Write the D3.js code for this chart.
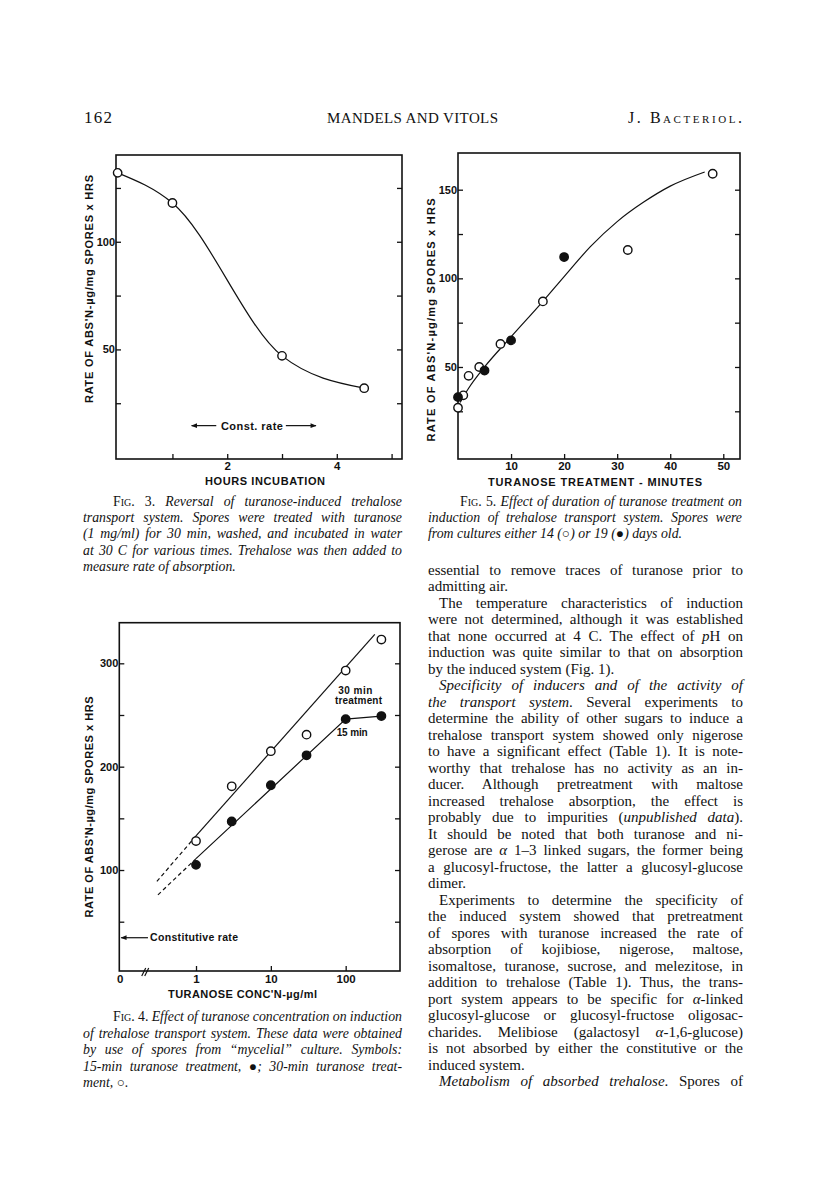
<!DOCTYPE html>
<html>
<head>
<meta charset="utf-8">
<script src="https://cdn.jsdelivr.net/npm/d3@7"></script>
<style>
  body { margin: 0; background: #fff; }
  svg text { fill: #111; }
  .sans { font-family: "Liberation Sans", Arial, sans-serif; font-weight: bold; }
  .serif { font-family: "Liberation Serif", "Times New Roman", serif; }
</style>
</head>
<body>
<svg id="page" width="816" height="1201"></svg>
<script>
// Fig. 3 - reversal of induction
var fig3Hours = [0, 1, 3, 4.5];
var fig3Rate = [132, 118, 47, 32];
var fig3XTicks = [1, 2, 3, 4, 5];
var fig3XLabels = [2, 4];
var fig3YTicks = [25, 50, 75, 100, 125];
var fig3YLabels = [50, 100];

// Fig. 5 - duration of treatment
var fig5Min14 = [0, 1, 2, 4, 8, 16, 32, 48];
var fig5Rate14 = [27, 34, 45, 50, 63, 87, 116, 159];
var fig5Min19 = [0, 5, 10, 20];
var fig5Rate19 = [33, 48, 65, 112];
var fig5FitMin = [0.4, 2, 5, 10, 16, 20, 25, 30, 35, 40, 46.5];
var fig5FitRate = [30, 38, 50, 67, 87, 101, 118, 132, 143, 152, 160];
var fig5XTicks = [10, 20, 30, 40, 50];
var fig5YTicks = [25, 50, 75, 100, 125, 150];
var fig5YLabels = [50, 100, 150];

// Fig. 4 - turanose concentration
var fig4Conc = [1, 3, 10, 30, 100, 300];
var fig4Rate30 = [128, 181, 215, 231, 293, 323];
var fig4Rate15 = [105, 147, 182, 211, 246, 249];
var fig4Line30Conc = [1, 245], fig4Line30Rate = [133, 328];
var fig4Dash30Conc = [0.3, 1], fig4Dash30Rate = [89, 133];
var fig4Line15Conc = [1, 100, 300], fig4Line15Rate = [111, 246, 249];
var fig4Dash15Conc = [0.31, 1], fig4Dash15Rate = [76, 111];
var fig4XTicks = [1, 10, 100];
var fig4YTicks = [50, 100, 150, 200, 250, 300];
var fig4YLabels = [100, 200, 300];

// text: "+" = indented first line, "~" = last line of paragraph, *italic*, #small caps#
var caption3 = [
  "+#Fig. 3.# Reversal of turanose-induced trehalose",
  "transport system. Spores were treated with turanose",
  "(1 mg/ml) for 30 min, washed, and incubated in water",
  "at 30 C for various times. Trehalose was then added to",
  "measure rate of absorption.~"
];
var caption5 = [
  "+#Fig. 5.# Effect of duration of turanose treatment on",
  "induction of trehalose transport system. Spores were",
  "from cultures either 14 (○) or 19 (●) days old.~"
];
var caption4 = [
  "+#Fig. 4.# Effect of turanose concentration on induction",
  "of trehalose transport system. These data were obtained",
  "by use of spores from “mycelial” culture. Symbols:",
  "15-min turanose treatment, ●; 30-min turanose treat-",
  "ment, ○.~"
];
var bodyText = [
  "essential to remove traces of turanose prior to",
  "admitting air.~",
  "+The temperature characteristics of induction",
  "were not determined, although it was established",
  "that none occurred at 4 C. The effect of *p*H on",
  "induction was quite similar to that on absorption",
  "by the induced system (Fig. 1).~",
  "+*Specificity of inducers and of the activity of*",
  "*the transport system*. Several experiments to",
  "determine the ability of other sugars to induce a",
  "trehalose transport system showed only nigerose",
  "to have a significant effect (Table 1). It is note-",
  "worthy that trehalose has no activity as an in-",
  "ducer. Although pretreatment with maltose",
  "increased trehalose absorption, the effect is",
  "probably due to impurities (*unpublished data*).",
  "It should be noted that both turanose and ni-",
  "gerose are *α* 1–3 linked sugars, the former being",
  "a glucosyl-fructose, the latter a glucosyl-glucose",
  "dimer.~",
  "+Experiments to determine the specificity of",
  "the induced system showed that pretreatment",
  "of spores with turanose increased the rate of",
  "absorption of kojibiose, nigerose, maltose,",
  "isomaltose, turanose, sucrose, and melezitose, in",
  "addition to trehalose (Table 1). Thus, the trans-",
  "port system appears to be specific for *α*-linked",
  "glucosyl-glucose or glucosyl-fructose oligosac-",
  "charides. Melibiose (galactosyl *α*-1,6-glucose)",
  "is not absorbed by either the constitutive or the",
  "induced system.~",
  "+*Metabolism of absorbed trehalose*. Spores of"
];

var svg = d3.select("#page");
svg.append("rect").attr("width", 816).attr("height", 1201).attr("fill", "#fff");

var defs = svg.append("defs");
defs.append("marker").attr("id", "arrow")
    .attr("viewBox", "0 0 10 10").attr("refX", 9).attr("refY", 5)
    .attr("markerWidth", 7).attr("markerHeight", 6).attr("markerUnits", "userSpaceOnUse")
    .attr("orient", "auto-start-reverse")
    .append("path").attr("d", "M0,1 L10,5 L0,9 Z").attr("fill", "#111");

// header
svg.append("text").attr("class", "serif").attr("x", 84).attr("y", 123)
    .style("font-size", "17px").attr("textLength", 28).text("162");
svg.append("text").attr("class", "serif").attr("x", 327).attr("y", 123)
    .style("font-size", "15px").attr("textLength", 171).attr("lengthAdjust", "spacing")
    .text("MANDELS AND VITOLS");
svg.append("text").attr("class", "serif").attr("x", 628).attr("y", 123)
    .style("font-size", "16px").style("font-variant", "small-caps")
    .attr("textLength", 114).attr("lengthAdjust", "spacing").text("J. Bacteriol.");

// frame + inward ticks on left, right and bottom
function drawFrame(g, x, y, w, h, xTicks, xLabels, yTicks, yLabels, pad) {
    g.append("g").attr("class", "yaxis").call(d3.axisLeft(y).tickValues(yTicks).tickSize(-5).tickPadding(1)
        .tickFormat(d => yLabels.indexOf(d) >= 0 ? d : ""));
    g.append("g").attr("transform", `translate(${w},0)`)
        .call(d3.axisRight(y).tickValues(yTicks).tickSize(-5).tickFormat(""));
    g.append("g").attr("transform", `translate(0,${h})`)
        .call(d3.axisBottom(x).tickValues(xTicks).tickSize(-5).tickPadding(pad)
            .tickFormat(d => xLabels.indexOf(d) >= 0 ? d3.format("d")(d) : ""));
    g.selectAll(".domain").remove();
    g.selectAll(".tick line").attr("stroke", "#111").attr("stroke-width", 1.3);
    g.selectAll(".tick text").attr("class", "sans").style("font-size", "11.5px").attr("fill", "#111");
    g.selectAll(".yaxis .tick text").style("font-size", "11px");
    g.append("rect").attr("width", w).attr("height", h)
        .attr("fill", "none").attr("stroke", "#111").attr("stroke-width", 1.6);
}

function label(txt, x, y, len, size, rot) {
    var t = svg.append("text").attr("class", "sans").attr("text-anchor", "middle")
        .style("font-size", size + "px").attr("textLength", len).attr("lengthAdjust", "spacing")
        .text(txt);
    if (rot) t.attr("transform", `translate(${x},${y}) rotate(-90)`).attr("dy", "0.36em");
    else t.attr("x", x).attr("y", y);
}

function dots(g, xs, ys, x, y, filled) {
    g.selectAll(null).data(xs).enter().append("circle")
        .attr("cx", d => x(d)).attr("cy", (d, i) => y(ys[i])).attr("r", 4.2)
        .attr("fill", filled ? "#111" : "#fff").attr("stroke", "#111").attr("stroke-width", 1.4);
}

function path(g, xs, ys, x, y, curve, dash) {
    var line = d3.line().curve(curve).x(d => x(d[0])).y(d => y(d[1]));
    g.append("path").attr("d", line(xs.map((d, i) => [d, ys[i]])))
        .attr("fill", "none").attr("stroke", "#111").attr("stroke-width", 1.2)
        .attr("stroke-dasharray", dash || null);
}

// ---------- Fig. 3 ----------
var w3 = 286, h3 = 304;
var g3 = svg.append("g").attr("transform", "translate(116,155)");
var x3 = d3.scaleLinear().domain([-0.03, 5.19]).range([0, w3]);
var y3 = d3.scaleLinear().domain([-0.9, 140.3]).range([h3, 0]);
drawFrame(g3, x3, y3, w3, h3, fig3XTicks, fig3XLabels, fig3YTicks, fig3YLabels, 3);
path(g3, fig3Hours, fig3Rate, x3, y3, d3.curveMonotoneX);
dots(g3, fig3Hours, fig3Rate, x3, y3, false);
g3.append("line").attr("x1", x3(1.8)).attr("x2", x3(1.35)).attr("y1", y3(14.6)).attr("y2", y3(14.6))
    .attr("stroke", "#111").attr("stroke-width", 1.2).attr("marker-end", "url(#arrow)");
g3.append("line").attr("x1", x3(3.07)).attr("x2", x3(3.62)).attr("y1", y3(14.6)).attr("y2", y3(14.6))
    .attr("stroke", "#111").attr("stroke-width", 1.2).attr("marker-end", "url(#arrow)");
g3.append("text").attr("class", "sans").attr("x", x3(2.45)).attr("y", y3(14.6)).attr("dy", "0.36em")
    .attr("text-anchor", "middle").style("font-size", "11px").attr("textLength", 62).text("Const. rate");
label("RATE OF ABS'N-µg/mg SPORES x HRS", 89, 289, 228, 11, true);
label("HOURS INCUBATION", 265, 485, 120, 11);

// ---------- Fig. 5 ----------
var w5 = 282, h5 = 306;
var g5 = svg.append("g").attr("transform", "translate(458,153)");
var x5 = d3.scaleLinear().domain([0, 53.15]).range([0, w5]);
var y5 = d3.scaleLinear().domain([-1.9, 170.7]).range([h5, 0]);
drawFrame(g5, x5, y5, w5, h5, fig5XTicks, fig5XTicks, fig5YTicks, fig5YLabels, 3);
path(g5, fig5FitMin, fig5FitRate, x5, y5, d3.curveMonotoneX);
dots(g5, fig5Min14, fig5Rate14, x5, y5, false);
dots(g5, fig5Min19, fig5Rate19, x5, y5, true);
label("RATE OF ABS'N-µg/mg SPORES x HRS", 431, 320, 243, 11, true);
label("TURANOSE TREATMENT - MINUTES", 595, 486, 214, 11);

// ---------- Fig. 4 ----------
var w4 = 280.7, h4 = 348.3;
var g4 = svg.append("g").attr("transform", "translate(119.3,622.7)");
var x4 = d3.scaleLog().domain([0.0944, 532]).range([0, w4]);
var y4 = d3.scaleLinear().domain([2.3, 339.3]).range([h4, 0]);
drawFrame(g4, x4, y4, w4, h4, fig4XTicks, fig4XTicks, fig4YTicks, fig4YLabels, 4);
// zero label and axis break
g4.append("text").attr("class", "sans").attr("x", 1).attr("y", h4 + 4).attr("dy", "0.71em")
    .attr("text-anchor", "middle").style("font-size", "11.5px").text("0");
[0, 3].forEach(function (off) {
    g4.append("line").attr("x1", x4(0.2) + off - 2).attr("x2", x4(0.2) + off + 2)
        .attr("y1", h4 + 5).attr("y2", h4 - 3).attr("stroke", "#111").attr("stroke-width", 1.2);
});
path(g4, fig4Dash30Conc, fig4Dash30Rate, x4, y4, d3.curveLinear, "4,3");
path(g4, fig4Dash15Conc, fig4Dash15Rate, x4, y4, d3.curveLinear, "4,3");
path(g4, fig4Line30Conc, fig4Line30Rate, x4, y4, d3.curveLinear);
path(g4, fig4Line15Conc, fig4Line15Rate, x4, y4, d3.curveLinear);
dots(g4, fig4Conc, fig4Rate30, x4, y4, false);
dots(g4, fig4Conc, fig4Rate15, x4, y4, true);
[["30 min", 79.6, 270, 34], ["treatment", 72, 260.5, 47], ["15 min", 75.8, 229.5, 31]].forEach(function (a) {
    g4.append("text").attr("class", "sans").attr("x", x4(a[1])).attr("y", y4(a[2]))
        .style("font-size", "10px").attr("textLength", a[3]).attr("lengthAdjust", "spacing").text(a[0]);
});
g4.append("line").attr("x1", x4(0.228)).attr("x2", x4(0.1)).attr("y1", y4(34.5)).attr("y2", y4(34.5))
    .attr("stroke", "#111").attr("stroke-width", 1.2).attr("marker-end", "url(#arrow)");
g4.append("text").attr("class", "sans").attr("x", x4(0.243)).attr("y", y4(34.5)).attr("dy", "0.36em")
    .style("font-size", "10.5px").attr("textLength", 88).text("Constitutive rate");
label("RATE OF ABS'N-µg/mg SPORES x HRS", 89, 807, 221, 11, true);
label("TURANOSE CONC'N-µg/ml", 242.5, 998, 149, 11);

// ---------- justified text blocks ----------
function block(lines, x, width, y0, dy, size, base, indent) {
    lines.forEach(function (raw, i) {
        var ind = raw[0] === "+", last = raw.slice(-1) === "~";
        var s = raw.replace(/^\+/, "").replace(/~$/, "");
        var t = svg.append("text").attr("class", "serif")
            .attr("x", x + (ind ? indent : 0)).attr("y", y0 + i * dy).style("font-size", size + "px");
        s.split(/(\*[^*]*\*|#[^#]*#)/).filter(p => p.length).forEach(function (p) {
            var ts = t.append("tspan");
            if (p[0] === "*") ts.text(p.slice(1, -1)).style("font-style", base === "italic" ? "normal" : "italic");
            else if (p[0] === "#") ts.text(p.slice(1, -1)).style("font-style", "normal").style("font-variant", "small-caps");
            else ts.text(p).style("font-style", base);
        });
        if (!last) {
            var nat = t.node().getComputedTextLength();
            var gaps = (s.match(/ /g) || []).length;
            if (gaps) t.attr("word-spacing", (width - (ind ? indent : 0) - nat) / gaps);
        }
    });
}

block(caption3, 83, 319, 506, 16.2, 13.8, "italic", 30);
block(caption5, 428, 314, 506, 16.2, 13.8, "italic", 32);
block(caption4, 83, 319, 1021, 16.5, 13.8, "italic", 30);
block(bodyText, 428, 315, 574.5, 16.5, 15, "normal", 11);
</script>
</body>
</html>
